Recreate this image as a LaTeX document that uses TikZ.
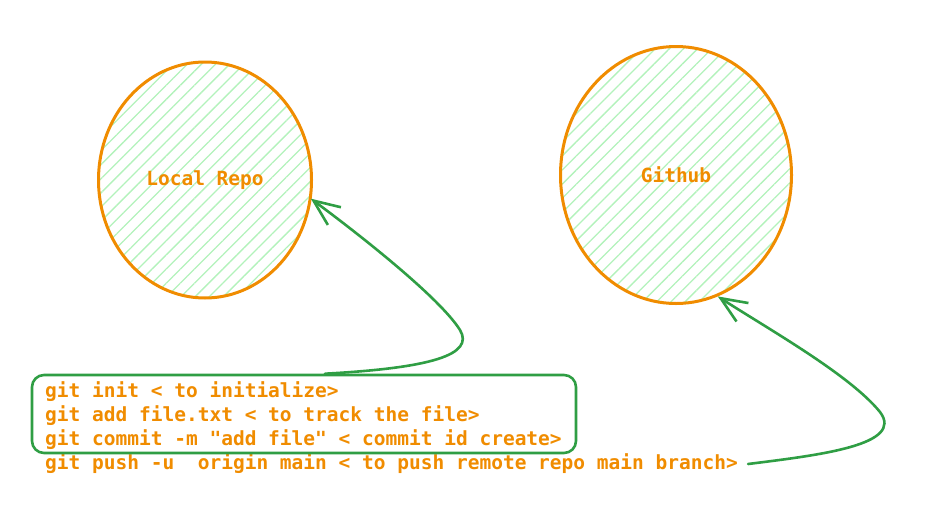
\documentclass[tikz,border=0pt]{standalone}
\usepackage{fontspec}
\newfontfamily\cc{DejaVu Sans Mono}
\usetikzlibrary{shapes.geometric,patterns.meta,arrows.meta,fit}
\definecolor{ora}{HTML}{F08C00}
\definecolor{grn}{HTML}{2F9E44}
\definecolor{hat}{HTML}{B2F2BB}
\tikzset{
  repo/.style={ellipse, draw=ora, line width=3pt, inner sep=0pt,
    pattern={Lines[angle=45,distance=10pt,line width=1.3pt]}, pattern color=hat,
    text=ora, font=\cc\bfseries\fontsize{19.5}{24}\selectfont},
  cmd/.style={anchor=west, inner sep=0pt, text=ora, font=\cc\bfseries\fontsize{19.5}{24}\selectfont},
  cmdbox/.style={draw=grn, line width=2.6pt, rounded corners=12pt},
  conn/.style={draw=grn, line width=2.6pt, line cap=round, -{Straight Barb[length=26pt,width=22pt,line width=2.6pt]}}
}
\begin{document}
\begin{tikzpicture}[x=1pt,y=-1pt]
\useasboundingbox (0,0) rectangle (929,506);
\node[repo, minimum width=213pt, minimum height=236pt] (local) at (205,180) {Local Repo};
\node[repo, minimum width=231pt, minimum height=257pt] (github) at (676,175) {Github};
\node[cmd] (l1) at (45,392) {git init < to initialize>};
\node[cmd] (l2) at (45,416) {git add file.txt < to track the file>};
\node[cmd] (l3) at (45,440) {git commit -m "add file" < commit id create>};
\node[cmd] (l4) at (45,464) {git push -u\ \ origin main < to push remote repo main branch>};
\node[cmdbox, fit={(32,375) (576,453)}, inner sep=0pt] (box) {};
\draw[conn] ([xshift=21pt]box.north) .. controls (430,368) and (475,355) .. (460,330)
  .. controls (440,298) and (360,235) .. (local.-10);
\draw[conn] ([xshift=10pt]l4.east) .. controls (820,455) and (905,445) .. (880,412)
  .. controls (850,375) and (770,330) .. (github.-71);
\end{tikzpicture}
\end{document}
